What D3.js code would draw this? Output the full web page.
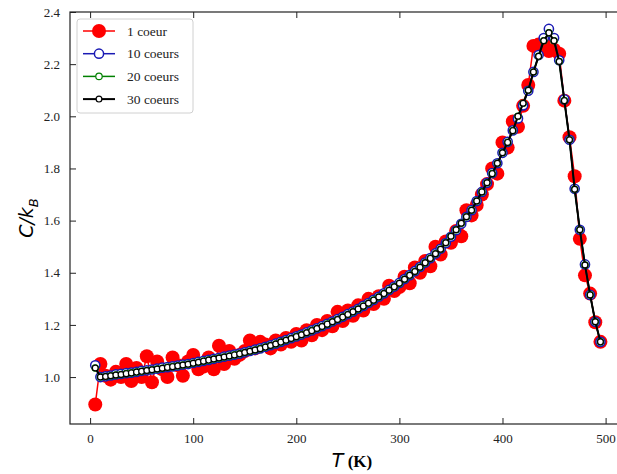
<!DOCTYPE html>
<html>
<head>
<meta charset="utf-8">
<script src="https://cdn.jsdelivr.net/npm/d3@7"></script>
<style>
  html, body { margin: 0; padding: 0; background: #fff; }
  svg { display: block; }
  .serif { font-family: "Liberation Serif", "Times New Roman", "DejaVu Serif", serif; }
  .sans { font-family: "DejaVu Sans", sans-serif; }
</style>
</head>
<body>
<svg id="chart" width="617" height="474"></svg>
<script>
// ---- data ----
const temperatures = [
  5,10,15,20,25,30,35,40,45,50,55,60,65,70,75,80,85,90,95,100,
  105,110,115,120,125,130,135,140,145,150,155,160,165,170,175,180,185,190,195,200,
  205,210,215,220,225,230,235,240,245,250,255,260,265,270,275,280,285,290,295,300,
  305,310,315,320,325,330,335,340,345,350,355,360,365,370,375,380,385,390,395,400,
  405,410,415,420,425,430,435,440,445,450,455,460,465,470,475,480,485,490,495
];
const coeur1 = [
  0.895,1.050,1.005,0.990,1.020,1.000,1.050,0.985,1.035,1.000,1.080,0.980,1.060,1.030,1.000,1.075,1.045,1.005,1.060,1.085,
  1.030,1.040,1.075,1.030,1.120,1.050,1.100,1.070,1.085,1.100,1.140,1.110,1.135,1.125,1.110,1.140,1.125,1.150,1.135,1.165,
  1.140,1.180,1.160,1.200,1.180,1.215,1.195,1.250,1.215,1.255,1.235,1.275,1.255,1.300,1.280,1.310,1.300,1.350,1.330,1.345,
  1.385,1.360,1.420,1.400,1.445,1.425,1.500,1.470,1.520,1.515,1.560,1.540,1.640,1.620,1.660,1.700,1.740,1.800,1.780,1.900,
  1.880,1.980,1.960,2.040,2.120,2.270,2.275,2.280,2.250,2.255,2.240,2.060,1.920,1.770,1.530,1.390,1.320,1.210,1.135
];
const coeurs10 = [
  1.045,1.000,1.003,1.006,1.010,1.012,1.015,1.017,1.020,1.024,1.026,1.029,1.032,1.036,1.038,1.041,1.044,1.048,1.050,1.054,
  1.058,1.062,1.066,1.070,1.074,1.078,1.082,1.086,1.090,1.095,1.100,1.105,1.110,1.116,1.122,1.128,1.135,1.142,1.149,1.156,
  1.163,1.171,1.179,1.187,1.195,1.204,1.213,1.222,1.231,1.241,1.251,1.262,1.273,1.284,1.296,1.308,1.321,1.334,1.347,1.361,
  1.376,1.391,1.406,1.422,1.439,1.456,1.474,1.492,1.514,1.538,1.563,1.588,1.614,1.640,1.675,1.710,1.745,1.782,1.820,1.860,
  1.902,1.946,1.992,2.042,2.098,2.170,2.235,2.300,2.335,2.300,2.215,2.065,1.910,1.722,1.565,1.432,1.315,1.212,1.135
];
const coeurs20 = [
  1.035,1.000,1.002,1.005,1.008,1.010,1.013,1.016,1.019,1.022,1.025,1.028,1.031,1.034,1.037,1.040,1.043,1.046,1.049,1.053,
  1.057,1.061,1.065,1.069,1.073,1.077,1.081,1.085,1.089,1.094,1.099,1.104,1.109,1.115,1.121,1.127,1.134,1.141,1.148,1.155,
  1.162,1.170,1.178,1.186,1.194,1.203,1.212,1.221,1.230,1.240,1.250,1.261,1.272,1.283,1.295,1.307,1.320,1.333,1.346,1.360,
  1.375,1.390,1.405,1.421,1.438,1.455,1.473,1.490,1.515,1.540,1.565,1.590,1.615,1.640,1.675,1.710,1.745,1.780,1.820,1.860,
  1.900,1.945,2.000,2.050,2.100,2.170,2.230,2.290,2.320,2.290,2.210,2.060,1.910,1.720,1.565,1.430,1.315,1.212,1.135
];
const coeurs30 = [
  1.035,1.000,1.002,1.005,1.008,1.010,1.013,1.016,1.019,1.022,1.025,1.028,1.031,1.034,1.037,1.040,1.043,1.046,1.049,1.053,
  1.057,1.061,1.065,1.069,1.073,1.077,1.081,1.085,1.089,1.094,1.099,1.104,1.109,1.115,1.121,1.127,1.134,1.141,1.148,1.155,
  1.162,1.170,1.178,1.186,1.194,1.203,1.212,1.221,1.230,1.240,1.250,1.261,1.272,1.283,1.295,1.307,1.320,1.333,1.346,1.360,
  1.375,1.390,1.405,1.421,1.438,1.455,1.473,1.490,1.515,1.540,1.565,1.590,1.615,1.640,1.675,1.710,1.745,1.780,1.820,1.860,
  1.900,1.945,2.000,2.050,2.100,2.170,2.230,2.290,2.320,2.290,2.210,2.060,1.910,1.720,1.565,1.430,1.315,1.212,1.135
];
const seriesNames = ["1 coeur", "10 coeurs", "20 coeurs", "30 coeurs"];
const xTicks = [0, 100, 200, 300, 400, 500];
const yTicks = [1.0, 1.2, 1.4, 1.6, 1.8, 2.0, 2.2, 2.4];

// ---- styles ----
const styles = [
  {color: "#ff0000", r: 7,   fill: "#ff0000", sw: 0,   lw: 1.5},
  {color: "#1a1ab4", r: 4.6, fill: "#ffffff", sw: 1.5, lw: 1.5},
  {color: "#008000", r: 3.2, fill: "#ffffff", sw: 1.2, lw: 1.5},
  {color: "#000000", r: 2.9, fill: "#ffffff", sw: 1.2, lw: 2}
];

const svg = d3.select("#chart");
const pL = 70, pR = 625.7, pT = 12, pB = 424;
const x = d3.scaleLinear().domain([-19.5, 519.5]).range([pL, pR]);
const y = d3.scaleLinear().domain([0.82, 2.4]).range([pB, pT]);

const allSeries = [coeur1, coeurs10, coeurs20, coeurs30];

svg.append("defs").append("clipPath").attr("id", "plotclip")
  .append("rect").attr("x", pL).attr("y", pT).attr("width", pR - pL).attr("height", pB - pT);

const plot = svg.append("g").attr("clip-path", "url(#plotclip)");
const line = d3.line().x(d => x(d[0])).y(d => y(d[1]));

allSeries.forEach((vals, i) => {
  const st = styles[i];
  const pts = temperatures.map((t, k) => [t, vals[k]]);
  const g = plot.append("g");
  g.append("path").datum(pts).attr("d", line)
    .attr("fill", "none").attr("stroke", st.color).attr("stroke-width", st.lw)
    .attr("stroke-linejoin", "round");
  g.selectAll("circle").data(pts).join("circle")
    .attr("cx", d => x(d[0])).attr("cy", d => y(d[1])).attr("r", st.r)
    .attr("fill", st.fill).attr("stroke", st.sw ? st.color : "none").attr("stroke-width", st.sw);
});

// ---- axes (inward ticks on all sides) ----
const axisColor = "#222";
function styleAxis(g) {
  g.attr("font-family", null).attr("font-size", null);
  g.select(".domain").remove();
  g.selectAll("line").attr("stroke", axisColor).attr("stroke-width", 1);
  g.selectAll("text").attr("class", "serif").style("font-size", "13px").attr("fill", "#222");
}
svg.append("g").attr("transform", `translate(0,${pB})`)
  .call(d3.axisBottom(x).tickValues(xTicks).tickSize(-6).tickPadding(10).tickFormat(d3.format("d")))
  .call(styleAxis);
svg.append("g").attr("transform", `translate(0,${pT})`)
  .call(d3.axisTop(x).tickValues(xTicks).tickSize(-6).tickFormat(""))
  .call(styleAxis);
svg.append("g").attr("transform", `translate(${pL},0)`)
  .call(d3.axisLeft(y).tickValues(yTicks).tickSize(-6).tickPadding(10).tickFormat(d3.format(".1f")))
  .call(styleAxis);
svg.append("g").attr("transform", `translate(${pR},0)`)
  .call(d3.axisRight(y).tickValues(yTicks).tickSize(-6).tickFormat(""))
  .call(styleAxis);

svg.append("rect").attr("x", pL).attr("y", pT).attr("width", pR - pL).attr("height", pB - pT)
  .attr("fill", "none").attr("stroke", axisColor).attr("stroke-width", 1.2);

// ---- axis labels ----
const xl = svg.append("text").attr("x", 352).attr("y", 467).attr("text-anchor", "middle");
xl.append("tspan").attr("class", "sans").style("font-style", "italic")
  .style("font-size", "19px").text("T");
xl.append("tspan").attr("class", "serif").style("font-weight", "bold")
  .style("font-size", "17px").text(" (K)");

const yl = svg.append("text").attr("transform", "translate(33,218) rotate(-90)")
  .attr("text-anchor", "middle").attr("class", "sans")
  .style("font-style", "italic").style("font-size", "19px");
yl.append("tspan").text("C/k");
yl.append("tspan").style("font-size", "13px").attr("dy", 5).text("B");

// ---- legend ----
const lg = svg.append("g");
lg.append("rect").attr("x", 77).attr("y", 19).attr("width", 116).attr("height", 94)
  .attr("rx", 3).attr("fill", "#fff").attr("fill-opacity", 0.85)
  .attr("stroke", "#d0d0d0").attr("stroke-width", 1);
seriesNames.forEach((name, i) => {
  const st = styles[i];
  const cy = 31 + i * 22.7;
  lg.append("line").attr("x1", 83).attr("x2", 115).attr("y1", cy).attr("y2", cy)
    .attr("stroke", st.color).attr("stroke-width", st.lw);
  lg.append("circle").attr("cx", 99).attr("cy", cy).attr("r", st.r)
    .attr("fill", st.fill).attr("stroke", st.sw ? st.color : "none").attr("stroke-width", st.sw);
  lg.append("text").attr("x", 127).attr("y", cy + 4.5)
    .attr("class", "serif").style("font-size", "13.5px").attr("fill", "#222").text(name);
});
</script>
</body>
</html>
